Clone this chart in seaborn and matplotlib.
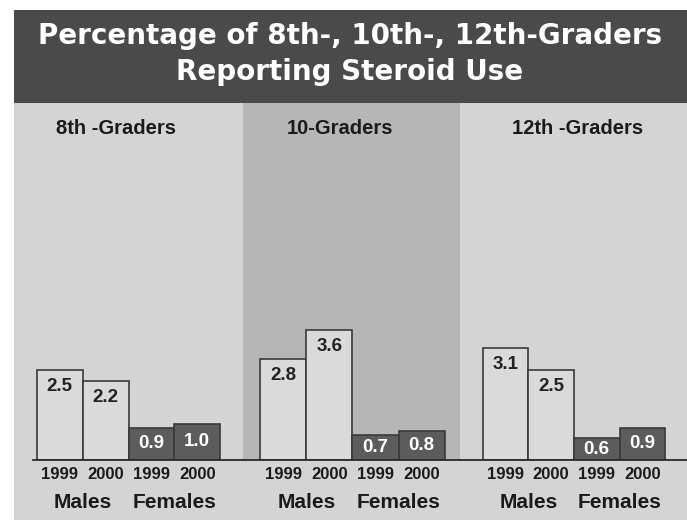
import numpy as np
import pandas as pd
import matplotlib
matplotlib.use("Agg")
import matplotlib.pyplot as plt
import matplotlib.transforms as mtransforms
from matplotlib.patches import Rectangle
import seaborn as sns

# data
grades = ["8th -Graders", "10-Graders", "12th -Graders"]
sexes = ["Males", "Females"]
years = ["1999", "2000"]
males = {"8th -Graders": [2.5, 2.2], "10-Graders": [2.8, 3.6], "12th -Graders": [3.1, 2.5]}
females = {"8th -Graders": [0.9, 1.0], "10-Graders": [0.7, 0.8], "12th -Graders": [0.6, 0.9]}

rows = []
for g in grades:
    for sex, src in zip(sexes, [males, females]):
        for y, v in zip(years, src[g]):
            rows.append({"grade": g, "sex": sex, "year": y, "slot": sex + " " + y, "pct": v})
df = pd.DataFrame(rows)
slots = [s + " " + y for s in sexes for y in years]

sns.set_theme(style="white")
plt.rcParams["font.family"] = ["Liberation Sans", "DejaVu Sans"]

W, H = 687, 520
fig = plt.figure(figsize=(W / 100, H / 100), dpi=100)
fig.patch.set_facecolor("white")

def fx(px):
    return px / W

def fy(py):
    return 1 - py / H

# grey panel and dark title banner, kept behind the axes
fig.patches.append(Rectangle((fx(14), 0), fx(W - 14), fy(103), transform=fig.transFigure,
                             facecolor="#d4d4d4", edgecolor="none", zorder=-5))
fig.patches.append(Rectangle((fx(14), fy(103)), fx(W - 14), fy(10) - fy(103), transform=fig.transFigure,
                             facecolor="#4a4a4a", edgecolor="none", zorder=-5))
fig.text(fx(350), fy(54), "Percentage of 8th-, 10th-, 12th-Graders\nReporting Steroid Use",
         ha="center", va="center", color="white", fontsize=20, fontweight="bold",
         linespacing=1.35, family="DejaVu Sans")

# panel layout in pixels: (left, right, xlim, facecolor, group label centre)
layout = [
    (14, 243, (-1.0, 4.0), "#d4d4d4", 116),
    (243, 460, (-0.87, 3.83), "#b6b6b6", 340),
    (460, 687, (-1.0, 3.98), "#d4d4d4", 578),
]
top_px, base_px = 103, 460
ymax = (base_px - top_px) / 36.0

palette = {"Males": "#dadada", "Females": "#5c5c5c"}

for i, (g, (l, r, xl, fc, gx)) in enumerate(zip(grades, layout)):
    ax = fig.add_axes([fx(l), fy(base_px), fx(r - l), fy(top_px) - fy(base_px)])
    ax.set_facecolor(fc)
    sub = df[df["grade"] == g]
    sns.barplot(data=sub, x="slot", y="pct", hue="sex", order=slots, hue_order=sexes,
                palette=palette, dodge=False, width=1.0, edgecolor="#3a3a3a",
                linewidth=1.2, legend=False, ax=ax)
    m_cont, f_cont = ax.containers[0], ax.containers[1]
    ax.bar_label(m_cont, labels=[f"{v:.1f}" for v in sub[sub["sex"] == "Males"]["pct"]],
                 padding=-18, color="#222222", fontsize=13.5, fontweight="bold")
    ax.bar_label(f_cont, labels=[f"{v:.1f}" for v in sub[sub["sex"] == "Females"]["pct"]],
                 label_type="center", color="white", fontsize=13.5, fontweight="bold")
    ax.set_xlim(*xl)
    ax.set_ylim(0, ymax)
    ax.set_xlabel("")
    ax.set_ylabel("")
    ax.set_yticks([])
    ax.set_xticks(range(len(slots)))
    ax.set_xticklabels([s.split(" ")[1] for s in slots], fontsize=12, fontweight="bold",
                       color="#1a1a1a")
    ax.tick_params(axis="x", length=0, pad=5)
    for side in ["top", "left", "right"]:
        ax.spines[side].set_visible(False)
    ax.spines["bottom"].set_color("#2a2a2a")
    ax.spines["bottom"].set_linewidth(1.3)
    if i == 0:
        ax.spines["bottom"].set_bounds(-0.59, xl[1])
    trans = mtransforms.blended_transform_factory(ax.transData, ax.transAxes)
    for k, sex in enumerate(sexes):
        ax.text(2 * k + 0.5, -0.12, sex, transform=trans, ha="center", va="center",
                fontsize=15, fontweight="bold", color="#1a1a1a")
    fig.text(fx(gx), fy(128), g, ha="center", va="center", fontsize=14.5,
             fontweight="bold", color="#1a1a1a")

fig.savefig("out.png", dpi=100)
